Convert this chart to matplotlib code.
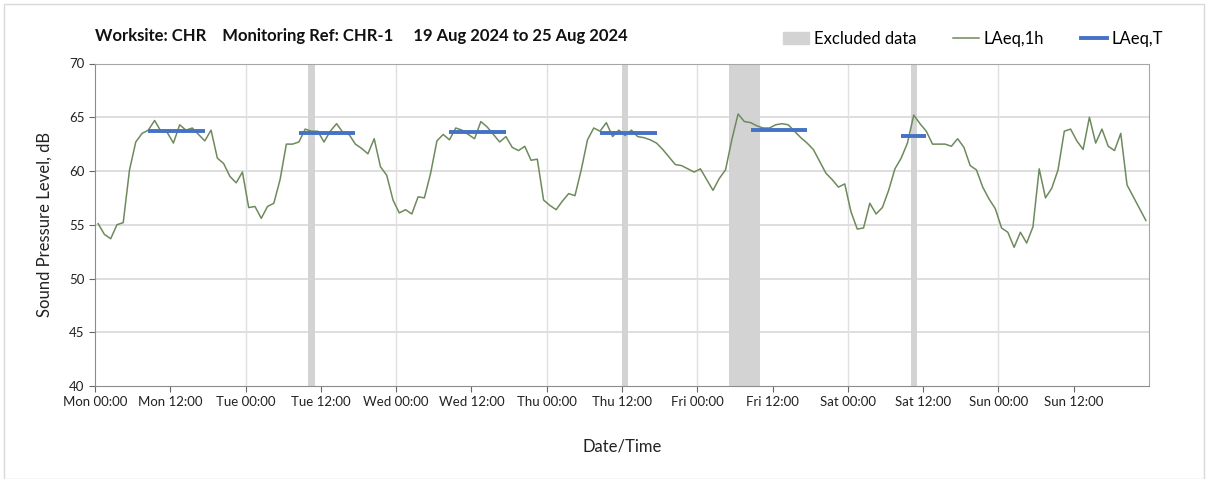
import matplotlib.pyplot as plt
import matplotlib.patches as mpatches
from matplotlib.lines import Line2D
import numpy as np

plt.rcParams['font.family'] = ['Lato', 'DejaVu Sans']

# hourly LAeq,1h values, Mon 00:00 -> Sun 23:00
laeq_1h = [
    55.1, 54.1, 53.7, 55.0, 55.2, 60.1, 62.7, 63.5, 63.8, 64.7, 63.7, 63.6,
    62.6, 64.3, 63.8, 64.0, 63.4, 62.8, 63.8, 61.2, 60.7, 59.5, 58.9, 59.9,
    56.6, 56.7, 55.6, 56.7, 57.0, 59.2, 62.5, 62.5, 62.7, 63.9, 63.7, 63.7,
    62.7, 63.7, 64.4, 63.6, 63.4, 62.5, 62.1, 61.6, 63.0, 60.4, 59.6, 57.3,
    56.1, 56.4, 56.0, 57.6, 57.5, 59.8, 62.8, 63.4, 62.9, 64.0, 63.8, 63.4,
    63.0, 64.6, 64.1, 63.4, 62.7, 63.2, 62.2, 61.9, 62.3, 61.0, 61.1, 57.3,
    56.8, 56.4, 57.2, 57.9, 57.7, 60.1, 62.9, 64.0, 63.7, 64.5, 63.2, 63.8,
    63.3, 63.8, 63.2, 63.1, 62.9, 62.6, 62.0, 61.3, 60.6, 60.5, 60.2, 59.9,
    60.2, 59.2, 58.2, 59.3, 60.1, 62.9, 65.3, 64.6, 64.5, 64.2, 64.0, 64.0,
    64.3, 64.4, 64.3, 63.7, 63.1, 62.6, 62.0, 60.9, 59.8, 59.2, 58.5, 58.8,
    56.2, 54.6, 54.7, 57.0, 56.0, 56.6, 58.2, 60.2, 61.2, 62.6, 65.2, 64.4,
    63.7, 62.5, 62.5, 62.5, 62.3, 63.0, 62.2, 60.5, 60.1, 58.5, 57.4, 56.5,
    54.7, 54.3, 52.9, 54.3, 53.3, 54.8, 60.2, 57.5, 58.4, 60.1, 63.7, 63.9,
    62.8, 62.0, 65.0, 62.6, 63.9, 62.3, 61.9, 63.5, 58.7, 57.6, 56.5, 55.4,
]
hours = np.arange(len(laeq_1h)) + 0.5

# excluded periods (hours from Mon 00:00)
excl_start = [34, 84, 101, 130]
excl_end = [35, 85, 106, 131]

# LAeq,T over the working day
t_start = [8.5, 32.5, 56.5, 80.5, 104.5, 128.5]
t_end = [17.5, 41.5, 65.5, 89.5, 113.5, 132.5]
t_value = [63.7, 63.5, 63.6, 63.5, 63.8, 63.3]

days = ['Mon', 'Tue', 'Wed', 'Thu', 'Fri', 'Sat', 'Sun']
tick_labels = [f'{d} {t}' for d in days for t in ('00:00', '12:00')]

fig = plt.figure(figsize=(12.08, 4.79), dpi=100)
ax = fig.add_axes([95 / 1208, 1 - 386 / 479, (1149 - 95) / 1208, (386 - 63.5) / 479])

for s, e in zip(excl_start, excl_end):
    ax.axvspan(s, e, color='#d3d3d3', lw=0, zorder=1)

ax.plot(hours, laeq_1h, color='#6e8a5c', lw=1.1, zorder=3)
ax.hlines(t_value, t_start, t_end, color='#4472c4', lw=2.8, zorder=4)

ax.set_xlim(0, 168)
ax.set_ylim(40, 70)
ax.set_yticks(range(40, 71, 5))
ax.set_xticks(range(0, 168, 12))
ax.set_xticklabels(tick_labels)
ax.tick_params(axis='both', labelsize=9.5, colors='#666666', labelcolor='#222222', length=4)

for y in range(45, 70, 5):
    ax.axhline(y, color='#d4d4d4', lw=1.1, zorder=0)
for d in range(24, 168, 24):
    ax.axvline(d, color='#e0e0e0', lw=1, zorder=0)

ax.spines['left'].set_color('#8c8c8c')
ax.spines['bottom'].set_color('#8c8c8c')
ax.spines['top'].set_color('#a6a6a6')
ax.spines['right'].set_color('#a6a6a6')

ax.set_ylabel('Sound Pressure Level, dB', fontsize=12, color='#222222', labelpad=12)
ax.set_xlabel('Date/Time', fontsize=12, color='#222222', labelpad=22)

fig.text(95 / 1208, 1 - 36 / 479, 'Worksite: CHR    Monitoring Ref: CHR-1     19 Aug 2024 to 25 Aug 2024',
         fontsize=12, fontweight='bold', va='center', ha='left', color='#111111')

handles = [
    mpatches.Patch(color='#d3d3d3', label='Excluded data'),
    Line2D([], [], color='#6e8a5c', lw=1.1, label='LAeq,1h'),
    Line2D([], [], color='#4472c4', lw=2.8, label='LAeq,T'),
]
fig.legend(handles=handles, loc='center right', bbox_to_anchor=(1178 / 1208, 1 - 39 / 479),
           ncol=3, frameon=False, fontsize=12, columnspacing=2.2, handlelength=1.6,
           handletextpad=0.25)

fig.add_artist(mpatches.Rectangle((4 / 1208, 0), 1 - 8 / 1208, 1 - 4 / 479, transform=fig.transFigure,
                                  fill=False, edgecolor='#d9d9d9', lw=1))

fig.savefig('out.png', dpi=100)
